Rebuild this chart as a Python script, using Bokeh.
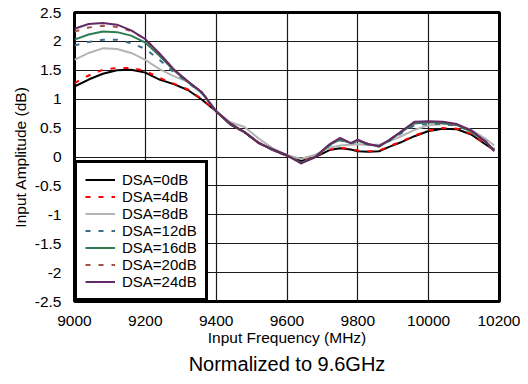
from bokeh.plotting import figure
from bokeh.models import FixedTicker, Legend, LegendItem, Title
from bokeh.embed import file_html
from bokeh.resources import INLINE

freq = [9000, 9040, 9080, 9120, 9160, 9200, 9240, 9280, 9320, 9360, 9400, 9440, 9480, 9520,
        9560, 9600, 9640, 9680, 9720, 9750, 9780, 9800, 9830, 9860, 9890, 9920, 9960, 10000,
        10040, 10080, 10120, 10160, 10185]

dsa_0 = [1.22, 1.34, 1.44, 1.50, 1.51, 1.46, 1.34, 1.26, 1.16, 0.99, 0.79, 0.56, 0.43, 0.25,
         0.12, 0.02, -0.07, 0.00, 0.12, 0.15, 0.13, 0.10, 0.09, 0.10, 0.18, 0.25, 0.36, 0.45,
         0.49, 0.48, 0.39, 0.22, 0.12]
dsa_4 = [1.28, 1.41, 1.51, 1.54, 1.54, 1.49, 1.37, 1.27, 1.17, 1.00, 0.79, 0.56, 0.43, 0.25,
         0.12, 0.02, -0.07, 0.01, 0.13, 0.16, 0.14, 0.11, 0.10, 0.11, 0.19, 0.26, 0.37, 0.46,
         0.50, 0.49, 0.40, 0.23, 0.13]
dsa_8 = [1.68, 1.80, 1.88, 1.87, 1.80, 1.68, 1.52, 1.40, 1.30, 1.11, 0.79, 0.60, 0.52, 0.32,
         0.15, 0.03, -0.03, 0.04, 0.16, 0.20, 0.21, 0.22, 0.21, 0.21, 0.28, 0.35, 0.47, 0.55,
         0.57, 0.56, 0.47, 0.32, 0.20]
dsa_12 = [1.93, 1.99, 2.03, 2.03, 1.97, 1.87, 1.68, 1.47, 1.29, 1.10, 0.79, 0.57, 0.43, 0.24,
          0.13, 0.03, -0.10, 0.00, 0.20, 0.29, 0.23, 0.27, 0.21, 0.18, 0.28, 0.40, 0.55, 0.57,
          0.57, 0.54, 0.44, 0.28, 0.14]
dsa_16 = [2.03, 2.12, 2.17, 2.16, 2.10, 1.98, 1.75, 1.50, 1.30, 1.11, 0.79, 0.57, 0.43, 0.24,
          0.13, 0.03, -0.10, 0.00, 0.21, 0.30, 0.24, 0.28, 0.22, 0.18, 0.29, 0.42, 0.58, 0.60,
          0.59, 0.55, 0.44, 0.27, 0.12]
dsa_20 = [2.17, 2.24, 2.27, 2.25, 2.18, 2.04, 1.78, 1.51, 1.30, 1.12, 0.79, 0.58, 0.43, 0.24,
          0.13, 0.03, -0.11, 0.00, 0.22, 0.32, 0.24, 0.29, 0.22, 0.19, 0.30, 0.43, 0.60, 0.61,
          0.60, 0.56, 0.45, 0.27, 0.13]
dsa_24 = [2.22, 2.30, 2.32, 2.29, 2.19, 2.04, 1.79, 1.52, 1.31, 1.12, 0.79, 0.58, 0.43, 0.24,
          0.13, 0.03, -0.11, 0.00, 0.22, 0.33, 0.24, 0.30, 0.22, 0.19, 0.30, 0.43, 0.61, 0.62,
          0.61, 0.57, 0.46, 0.27, 0.10]

series_labels = ["DSA=0dB", "DSA=4dB", "DSA=8dB", "DSA=12dB", "DSA=16dB", "DSA=20dB", "DSA=24dB"]
series_values = [dsa_0, dsa_4, dsa_8, dsa_12, dsa_16, dsa_20, dsa_24]

x_ticks = [9000, 9200, 9400, 9600, 9800, 10000, 10200]
x_tick_labels = ["9000", "9200", "9400", "9600", "9800", "10000", "10200"]
y_ticks = [-2.5, -2, -1.5, -1, -0.5, 0, 0.5, 1, 1.5, 2, 2.5]
y_tick_labels = ["-2.5", "-2", "-1.5", "-1", "-0.5", "0", "0.5", "1", "1.5", "2", "2.5"]

colors = ["#000000", "#ff0000", "#b4b4b4", "#3b6e8c", "#2f7a52", "#a5524c", "#642a66"]
dashes = ["solid", "5 8", "solid", "5 8", "solid", "5 8", "solid"]

FONT = "Liberation Sans"

p = figure(width=520, height=376, output_backend="svg", toolbar_location=None,
           x_range=(9000, 10200), y_range=(-2.5, 2.5),
           min_border_left=74, min_border_right=21, min_border_top=12, min_border_bottom=10)

p.xaxis.ticker = FixedTicker(ticks=x_ticks)
p.yaxis.ticker = FixedTicker(ticks=y_ticks)
p.xaxis.major_label_overrides = dict(zip(x_ticks, x_tick_labels))
p.yaxis.major_label_overrides = dict(zip(y_ticks, y_tick_labels))

for ax in (p.xaxis, p.yaxis):
    ax.axis_line_color = None
    ax.major_tick_line_color = None
    ax.minor_tick_line_color = None
    ax.major_label_text_font = FONT
    ax.major_label_text_font_size = "15.5px"
    ax.major_label_text_color = "black"
    ax.axis_label_text_font = FONT
    ax.axis_label_text_font_size = "15.5px"
    ax.axis_label_text_font_style = "normal"
    ax.axis_label_text_color = "black"

p.xaxis.axis_label = "Input Frequency (MHz)"
p.yaxis.axis_label = "Input Amplitude (dB)"
p.xaxis.major_label_standoff = 8
p.yaxis.major_label_standoff = 7
p.xaxis.axis_label_standoff = 0
p.yaxis.axis_label_standoff = 3

p.grid.grid_line_color = "#1a1a1a"
p.grid.grid_line_width = 1.2
p.outline_line_color = "black"
p.outline_line_width = 3

items = []
for lab, vals, c, d in zip(series_labels, series_values, colors, dashes):
    r = p.line(freq, vals, line_color=c, line_width=2, line_dash=d)
    items.append(LegendItem(label=lab, renderers=[r]))

legend = Legend(items=items, location="bottom_left", margin=0, padding=8, spacing=0,
                label_height=17, glyph_height=17, glyph_width=30, label_standoff=7,
                border_line_color="black", border_line_width=3, border_line_alpha=1,
                background_fill_color="white", background_fill_alpha=1,
                label_text_font=FONT, label_text_font_size="15px", label_text_color="black")
p.add_layout(legend, "center")

t = Title(text="Normalized to 9.6GHz", align="center", text_font=FONT, text_font_size="20px",
          text_font_style="normal", text_color="black", standoff=4)
p.add_layout(t, "below")

open("out.html", "w").write(file_html(p, INLINE))
